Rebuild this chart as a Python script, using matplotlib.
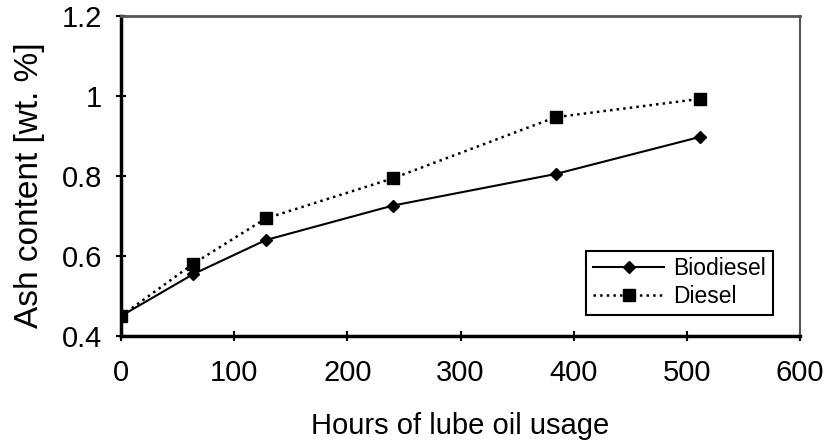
import matplotlib

matplotlib.use("Agg")
import matplotlib.pyplot as plt  # noqa: E402

# Ash content of lube oil over usage time
HOURS = [0, 64, 128, 240, 384, 512]
BIODIESEL = [0.45, 0.555, 0.64, 0.726, 0.805, 0.898]
DIESEL = [0.45, 0.581, 0.694, 0.794, 0.947, 0.993]

X_TICKS = [0, 100, 200, 300, 400, 500, 600]
Y_TICKS = [0.4, 0.6, 0.8, 1.0, 1.2]
Y_TICK_LABELS = ["0.4", "0.6", "0.8", "1", "1.2"]

plt.rcParams["font.family"] = ["Liberation Sans", "DejaVu Sans"]

fig = plt.figure(figsize=(8.25, 4.44), dpi=100)
ax = fig.add_axes([0.1467, 0.2432, 0.823, 0.7207])

ax.plot(HOURS, BIODIESEL, "-", color="black", linewidth=1.5,
        marker="D", markersize=6, label="Biodiesel", zorder=3)
ax.plot(HOURS, DIESEL, ":", color="black", linewidth=1.8,
        marker="s", markersize=8.5, label="Diesel", zorder=2)

ax.set_xlim(0, 600)
ax.set_ylim(0.4, 1.2)
ax.set_xticks(X_TICKS)
ax.set_xticklabels([str(x) for x in X_TICKS])
ax.set_yticks(Y_TICKS)
ax.set_yticklabels(Y_TICK_LABELS)
ax.tick_params(direction="inout", length=7, width=1.5, labelsize=21,
               colors="black")
ax.tick_params(axis="x", pad=13)
ax.tick_params(axis="y", pad=10)

ax.set_xlabel("Hours of lube oil usage", fontsize=21, labelpad=18)
ax.set_ylabel("Ash content [wt. %]", fontsize=24, labelpad=12)
ax.yaxis.label.set_y(0.47)

for side in ("left", "bottom"):
    ax.spines[side].set_linewidth(2.5)
    ax.spines[side].set_color("black")
ax.spines["top"].set_linewidth(2.0)
ax.spines["top"].set_color("#555555")
ax.spines["right"].set_linewidth(1.5)
ax.spines["right"].set_color("#555555")

leg = ax.legend(loc="lower right", bbox_to_anchor=(0.960, 0.066),
                borderaxespad=0, fontsize=16.5, handlelength=3.1,
                fancybox=False, framealpha=1, edgecolor="black",
                borderpad=0.3, labelspacing=0.2, handletextpad=0.4)
leg.get_frame().set_linewidth(1.5)

fig.savefig("out.png", dpi=100)
